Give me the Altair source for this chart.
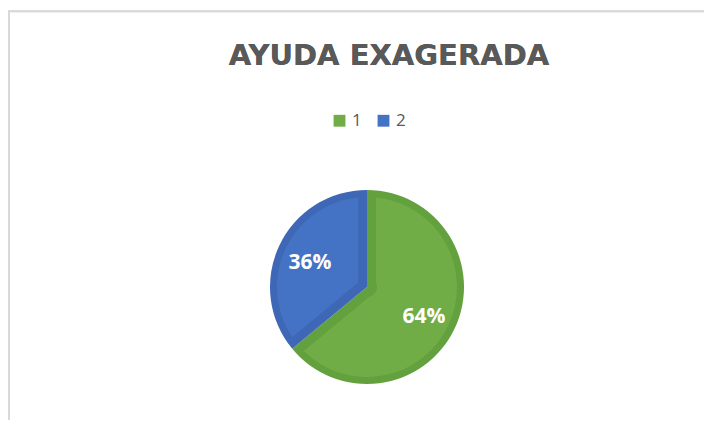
import altair as alt
import pandas as pd

categories = ["1", "2"]
values = [64, 36]
light_colors = ["#70ad47", "#4472c4"]
dark_colors = ["#63a03e", "#3e68b6"]
title_text = "AYUDA EXAGERADA"

df = pd.DataFrame({"cat": categories, "value": values})

W, H = 696, 412
CX, CY = 359, 279

base = alt.Chart(df).transform_calculate(label="datum.value + '%'")

# frame lines (Word chart border)
frame_left = alt.Chart(df).mark_rule(color="#d9d9d9", strokeWidth=2).encode(
    x=alt.value(1), y=alt.value(3), y2=alt.value(H)
)
frame_top = alt.Chart(df).mark_rule(color="#d9d9d9", strokeWidth=2).encode(
    x=alt.value(0), x2=alt.value(W), y=alt.value(3.25)
)

dark = base.mark_arc(outerRadius=97).encode(
    theta=alt.Theta("value:Q", stack=True),
    order=alt.Order("cat:N"),
    color=alt.Color("cat:N", scale=alt.Scale(domain=categories, range=dark_colors), legend=None),
    x=alt.value(CX), y=alt.value(CY),
)

light = base.mark_arc(outerRadius=90, innerRadius=9.9, padAngle=0.199).encode(
    theta=alt.Theta("value:Q", stack=True),
    order=alt.Order("cat:N"),
    fill=alt.Fill(
        "cat:N",
        scale=alt.Scale(domain=categories, range=light_colors),
        legend=alt.Legend(
            title=None, orient="none", legendX=323, legendY=104,
            direction="horizontal", symbolType="square", symbolSize=140,
            symbolStrokeWidth=0, labelFontSize=17, labelColor="#595959",
            labelFont="Open Sans", labelOffset=4, columnPadding=13, padding=0,
        ),
    ),
    x=alt.value(CX), y=alt.value(CY),
)

labels = base.mark_text(radius=63, font="Open Sans", fontSize=21, fontWeight="bold",
                        color="white", dy=3).encode(
    theta=alt.Theta("value:Q", stack=True),
    order=alt.Order("cat:N"),
    detail="cat:N",
    text="label:N",
    x=alt.value(CX), y=alt.value(CY),
)

title = alt.Chart(df).mark_text(font="DejaVu Sans", fontSize=29, fontWeight="bold",
                                color="#595959", align="center", baseline="middle").encode(
    x=alt.value(381), y=alt.value(48), text=alt.value(title_text)
)

chart = alt.layer(frame_left, frame_top, dark, light, labels, title).resolve_scale(
    color="independent", fill="independent"
).properties(
    width=W, height=H, padding=0, autosize="none", background="white"
).configure_view(stroke=None)

chart.save("out.html", embed_options={"renderer": "svg", "actions": False})
